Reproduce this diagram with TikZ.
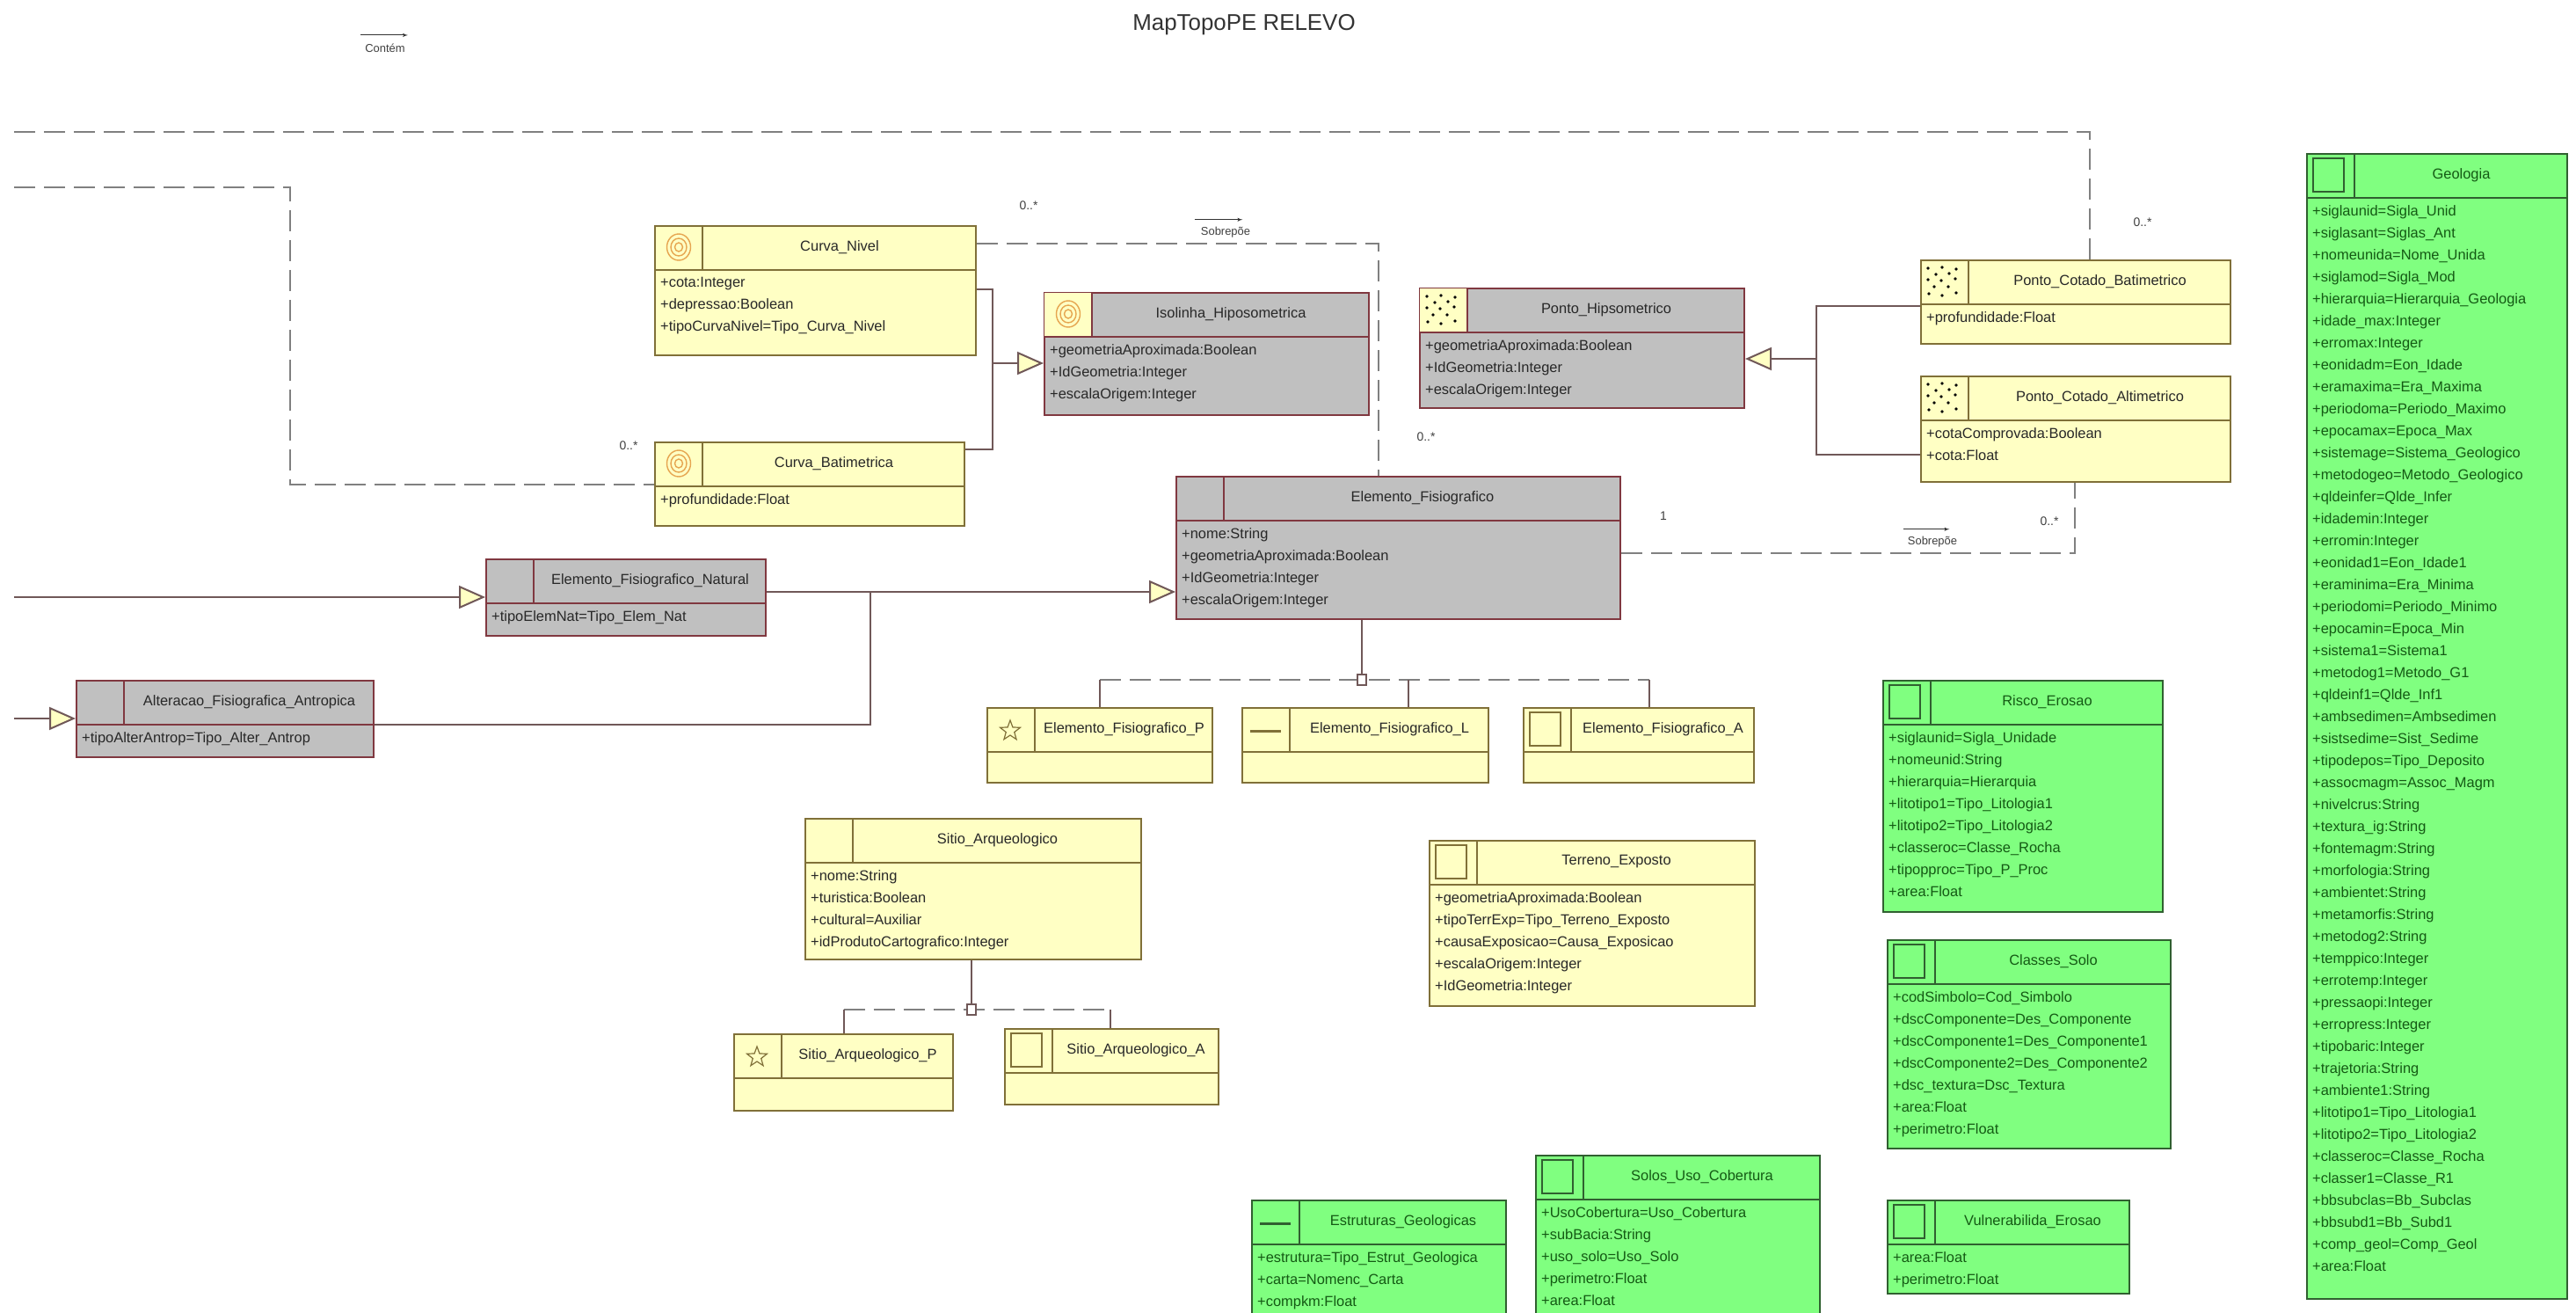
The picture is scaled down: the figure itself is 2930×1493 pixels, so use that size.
\documentclass[tikz,border=0pt]{standalone}
\usepackage{fontspec}
\setmainfont{Liberation Sans}
\usetikzlibrary{arrows,arrows.meta,positioning,shapes.geometric,calc}

\definecolor{ylwfill}{RGB}{255,255,196}
\definecolor{ylwline}{RGB}{128,112,56}
\definecolor{ylwtext}{RGB}{40,40,40}
\definecolor{gryfill}{RGB}{192,192,192}
\definecolor{gryline}{RGB}{128,56,64}
\definecolor{grytext}{RGB}{40,40,40}
\definecolor{grnfill}{RGB}{128,255,128}
\definecolor{grnline}{RGB}{48,96,48}
\definecolor{grntext}{RGB}{20,90,20}
\definecolor{assoccol}{RGB}{128,128,128}
\definecolor{conncol}{RGB}{112,88,88}
\definecolor{contour}{RGB}{230,165,80}

\newcommand{\umlfont}{\fontsize{16.5}{25.1}\selectfont}

% #1 colour set, #2 name, #3 x,y, #4 width, #5 height, #6 title, #7 attributes
\newcommand{\umlclass}[7]{%
\node[draw=#1line, fill=#1fill, line width=2bp, inner sep=0pt, anchor=north west,
  minimum width=#4bp, minimum height=#5bp] (#2) at (#3) {};
\draw[#1line, line width=2.5bp] ([yshift=-51bp]#2.north west) -- ([yshift=-51bp]#2.north east);
\draw[#1line, line width=1.5bp] ([xshift=55bp]#2.north west) -- ([xshift=55bp,yshift=-51bp]#2.north west);
\node[text=#1text, font=\umlfont, inner sep=0pt] (#2-t)
  at ($([xshift=55bp,yshift=-25bp]#2.north west)!0.5!([yshift=-25bp]#2.north east)$) {#6};
\node[text=#1text, font=\umlfont, align=left, inner sep=0pt, anchor=north west] (#2-a)
  at ([xshift=7bp,yshift=-59bp]#2.north west) {#7};
}
\newcommand{\iconfill}[1]{\fill[ylwfill] ([shift={(1bp,-1bp)}]#1.north west) rectangle ([shift={(54bp,-49.5bp)}]#1.north west);}
\newcommand{\icostar}[2]{\node[star, star points=5, star point ratio=2.4, draw=#2line, line width=1.2bp,
  inner sep=0pt, minimum size=24bp] (#1-i) at ([shift={(27bp,-27bp)}]#1.north west) {};}
\newcommand{\icoline}[2]{\draw[#2line, line width=3bp] ([shift={(10bp,-27bp)}]#1.north west) -- ([shift={(45bp,-27bp)}]#1.north west);}
\newcommand{\icosquare}[2]{\draw[#2line, line width=2bp] ([shift={(8bp,-6bp)}]#1.north west) rectangle ([shift={(43bp,-44bp)}]#1.north west);}
\newcommand{\icodots}[1]{\foreach \dx/\dy in {9/10,25/9,41/11,18/17,33/16,9/23,24/24,40/22,16/31,32/31,10/39,25/41,41/38}
  {\fill ([shift={(\dx bp,-\dy bp)}]#1.north west) circle (1.9bp);}}
\newcommand{\icocontour}[1]{\foreach \r in {5,10,15}
  {\draw[contour, line width=1.4bp] ([shift={(28bp,-25bp)}]#1.north west) ellipse ({0.9*\r bp} and {\r bp});}}

\begin{document}
\begin{tikzpicture}
[x=1bp, y=-1bp, >=latex',
conn/.style = {draw=conncol, line width=2bp},
gen/.style = {conn, -{Triangle[length=30bp, width=26bp, fill=ylwfill]}},
assoc/.style = {draw=assoccol, line width=2.5bp, dash pattern=on 24bp off 10bp},
joinbox/.style = {draw=conncol, fill=white, line width=1.5bp, minimum width=10bp, minimum height=12bp, inner sep=0pt},
mult/.style = {font=\fontsize{14}{16}\selectfont, text=black!75, inner sep=0pt},
legend/.style = {font=\fontsize{13}{15}\selectfont, text=black!75, inner sep=0pt},
legarrow/.style = {->, line width=1bp, black!80}]
\useasboundingbox (0,0) rectangle (2930,1493);
\fill[white] (0,0) rectangle (2930,1493);

\node[font=\fontsize{26}{30}\selectfont, text=black!80] (title) at (1415,28) {MapTopoPE RELEVO};
\node[legend] (contem) at (438,55) {Contém};
\draw[legarrow] ([xshift=-5bp,yshift=10bp]contem.north west) -- ([xshift=3bp,yshift=10bp]contem.north east);

% relevo
\umlclass{ylw}{curvanivel}{744,256}{365}{147}{Curva\_Nivel}{+cota:Integer\\+depressao:Boolean\\+tipoCurvaNivel=Tipo\_Curva\_Nivel}
\icocontour{curvanivel}
\umlclass{ylw}{curvabat}{744,502}{352}{95}{Curva\_Batimetrica}{+profundidade:Float}
\icocontour{curvabat}
\umlclass{gry}{isolinha}{1187,332}{369}{139}{Isolinha\_Hiposometrica}{+geometriaAproximada:Boolean\\+IdGeometria:Integer\\+escalaOrigem:Integer}
\iconfill{isolinha}\icocontour{isolinha}
\umlclass{gry}{pontohip}{1614,327}{369}{136}{Ponto\_Hipsometrico}{+geometriaAproximada:Boolean\\+IdGeometria:Integer\\+escalaOrigem:Integer}
\iconfill{pontohip}\icodots{pontohip}
\umlclass{ylw}{pcbat}{2184,295}{352}{95}{Ponto\_Cotado\_Batimetrico}{+profundidade:Float}
\icodots{pcbat}
\umlclass{ylw}{pcalt}{2184,427}{352}{120}{Ponto\_Cotado\_Altimetrico}{+cotaComprovada:Boolean\\+cota:Float}
\icodots{pcalt}

% elementos fisiograficos
\umlclass{gry}{elemfis}{1337,541}{505}{162}{Elemento\_Fisiografico}{+nome:String\\+geometriaAproximada:Boolean\\+IdGeometria:Integer\\+escalaOrigem:Integer}
\umlclass{gry}{elemnat}{552,635}{318}{87}{Elemento\_Fisiografico\_Natural}{+tipoElemNat=Tipo\_Elem\_Nat}
\umlclass{gry}{alterac}{86,773}{338}{87}{Alteracao\_Fisiografica\_Antropica}{+tipoAlterAntrop=Tipo\_Alter\_Antrop}
\umlclass{ylw}{elemP}{1122,804}{256}{85}{Elemento\_Fisiografico\_P}{}
\icostar{elemP}{ylw}
\umlclass{ylw}{elemL}{1412,804}{280}{85}{Elemento\_Fisiografico\_L}{}
\icoline{elemL}{ylw}
\umlclass{ylw}{elemA}{1732,804}{262}{85}{Elemento\_Fisiografico\_A}{}
\icosquare{elemA}{ylw}

\umlclass{ylw}{sitio}{915,930}{382}{160}{Sitio\_Arqueologico}{+nome:String\\+turistica:Boolean\\+cultural=Auxiliar\\+idProdutoCartografico:Integer}
\umlclass{ylw}{sitioP}{834,1175}{249}{87}{Sitio\_Arqueologico\_P}{}
\icostar{sitioP}{ylw}
\umlclass{ylw}{sitioA}{1142,1169}{243}{86}{Sitio\_Arqueologico\_A}{}
\icosquare{sitioA}{ylw}
\umlclass{ylw}{terreno}{1625,955}{370}{188}{Terreno\_Exposto}{+geometriaAproximada:Boolean\\+tipoTerrExp=Tipo\_Terreno\_Exposto\\+causaExposicao=Causa\_Exposicao\\+escalaOrigem:Integer\\+IdGeometria:Integer}
\icosquare{terreno}{ylw}

% tematicos
\umlclass{grn}{risco}{2141,773}{318}{263}{Risco\_Erosao}{+siglaunid=Sigla\_Unidade\\+nomeunid:String\\+hierarquia=Hierarquia\\+litotipo1=Tipo\_Litologia1\\+litotipo2=Tipo\_Litologia2\\+classeroc=Classe\_Rocha\\+tipopproc=Tipo\_P\_Proc\\+area:Float}
\icosquare{risco}{grn}
\umlclass{grn}{classes}{2146,1068}{322}{237}{Classes\_Solo}{+codSimbolo=Cod\_Simbolo\\+dscComponente=Des\_Componente\\+dscComponente1=Des\_Componente1\\+dscComponente2=Des\_Componente2\\+dsc\_textura=Dsc\_Textura\\+area:Float\\+perimetro:Float}
\icosquare{classes}{grn}
\umlclass{grn}{estrut}{1423,1364}{289}{132}{Estruturas\_Geologicas}{+estrutura=Tipo\_Estrut\_Geologica\\+carta=Nomenc\_Carta\\+compkm:Float}
\icoline{estrut}{grn}
\umlclass{grn}{solos}{1746,1313}{323}{190}{Solos\_Uso\_Cobertura}{+UsoCobertura=Uso\_Cobertura\\+subBacia:String\\+uso\_solo=Uso\_Solo\\+perimetro:Float\\+area:Float}
\icosquare{solos}{grn}
\umlclass{grn}{vulner}{2146,1364}{275}{106}{Vulnerabilida\_Erosao}{+area:Float\\+perimetro:Float}
\icosquare{vulner}{grn}
\umlclass{grn}{geologia}{2623,174}{296}{1302}{Geologia}{+siglaunid=Sigla\_Unid\\+siglasant=Siglas\_Ant\\+nomeunida=Nome\_Unida\\+siglamod=Sigla\_Mod\\+hierarquia=Hierarquia\_Geologia\\+idade\_max:Integer\\+erromax:Integer\\+eonidadm=Eon\_Idade\\+eramaxima=Era\_Maxima\\+periodoma=Periodo\_Maximo\\+epocamax=Epoca\_Max\\+sistemage=Sistema\_Geologico\\+metodogeo=Metodo\_Geologico\\+qldeinfer=Qlde\_Infer\\+idademin:Integer\\+erromin:Integer\\+eonidad1=Eon\_Idade1\\+eraminima=Era\_Minima\\+periodomi=Periodo\_Minimo\\+epocamin=Epoca\_Min\\+sistema1=Sistema1\\+metodog1=Metodo\_G1\\+qldeinf1=Qlde\_Inf1\\+ambsedimen=Ambsedimen\\+sistsedime=Sist\_Sedime\\+tipodepos=Tipo\_Deposito\\+assocmagm=Assoc\_Magm\\+nivelcrus:String\\+textura\_ig:String\\+fontemagm:String\\+morfologia:String\\+ambientet:String\\+metamorfis:String\\+metodog2:String\\+temppico:Integer\\+errotemp:Integer\\+pressaopi:Integer\\+erropress:Integer\\+tipobaric:Integer\\+trajetoria:String\\+ambiente1:String\\+litotipo1=Tipo\_Litologia1\\+litotipo2=Tipo\_Litologia2\\+classeroc=Classe\_Rocha\\+classer1=Classe\_R1\\+bbsubclas=Bb\_Subclas\\+bbsubd1=Bb\_Subd1\\+comp\_geol=Comp\_Geol\\+area:Float}
\icosquare{geologia}{grn}

% generalizacoes
\coordinate (isoup) at (1129,329);
\coordinate (isoj) at (1129,413);
\coordinate (isodown) at (1129,511);
\draw[conn] (curvanivel.east |- isoup) -- (isoup) -- (isodown) -- (curvabat.east |- isodown);
\draw[gen] (isoj) -- (isolinha.west |- isoj);

\coordinate (ptup) at (2066,348);
\coordinate (ptj) at (2066,408);
\coordinate (ptdown) at (2066,517);
\draw[conn] (pcbat.west |- ptup) -- (ptup) -- (ptdown) -- (pcalt.west |- ptdown);
\draw[gen] (ptj) -- (pontohip.east |- ptj);

\coordinate (efj) at (990,673);
\coordinate (altj) at (990,824);
\draw[gen] (elemnat.east |- efj) -- (elemfis.west |- efj);
\draw[conn] (alterac.east |- altj) -- (altj) -- (efj);
\coordinate (natin) at (16,679);
\coordinate (altin) at (16,817);
\draw[gen] (natin) -- (elemnat.west |- natin);
\draw[gen] (altin) -- (alterac.west |- altin);

% subtipos
\coordinate (efj0) at (1549,773);
\coordinate (efjm) at (1602,773);
\coordinate (efjr) at (1876,773);
\draw[conn] (efj0 |- elemfis.south) -- (efj0);
\draw[assoc] (elemP.north |- efj0) -- (efjr);
\draw[conn] (elemP.north |- efj0) -- (elemP.north);
\draw[conn] (efjm) -- (efjm |- elemL.north);
\draw[conn] (efjr) -- (efjr |- elemA.north);
\node[joinbox] (efjoin) at (efj0) {};

\coordinate (sitj0) at (1105,1148);
\coordinate (sitjr) at (1263,1148);
\draw[conn] (sitj0 |- sitio.south) -- (sitj0);
\draw[assoc] (sitioP.north |- sitj0) -- (sitjr);
\draw[conn] (sitioP.north |- sitj0) -- (sitioP.north);
\draw[conn] (sitjr) -- (sitjr |- sitioA.north);
\node[joinbox] (sitjoin) at (sitj0) {};

% associacoes
\coordinate (sobA) at (1568,277);
\draw[assoc] (curvanivel.east |- sobA) -- (sobA) -- (sobA |- elemfis.north);
\coordinate (bigL) at (16,150);
\coordinate (bigR) at (2377,150);
\draw[assoc] (bigL) -- (bigR) -- (bigR |- pcbat.north);
\coordinate (secL) at (16,213);
\coordinate (secR) at (330,213);
\coordinate (secD) at (330,551);
\draw[assoc] (secL) -- (secR) -- (secD) -- (curvabat.west |- secD);
\coordinate (sobB) at (2360,629);
\draw[assoc] (elemfis.east |- sobB) -- (sobB) -- (sobB |- pcalt.south);

\node[legend] (sobre1) at (1394,264) {Sobrepõe};
\draw[legarrow] ([xshift=-7bp,yshift=8bp]sobre1.north west) -- ([xshift=-9bp,yshift=8bp]sobre1.north east);
\node[legend] (sobre2) at (2198,616) {Sobrepõe};
\draw[legarrow] ([xshift=-5bp,yshift=8bp]sobre2.north west) -- ([xshift=-9bp,yshift=8bp]sobre2.north east);

\node[mult] (mcn) at (1170,234) {0..*};
\node[mult] (mef) at (1622,497) {0..*};
\node[mult] (mcb) at (715,507) {0..*};
\node[mult] (mpcb) at (2437,253) {0..*};
\node[mult] (mef2) at (1892,587) {1};
\node[mult] (mpca) at (2331,593) {0..*};

\end{tikzpicture}
\end{document}
